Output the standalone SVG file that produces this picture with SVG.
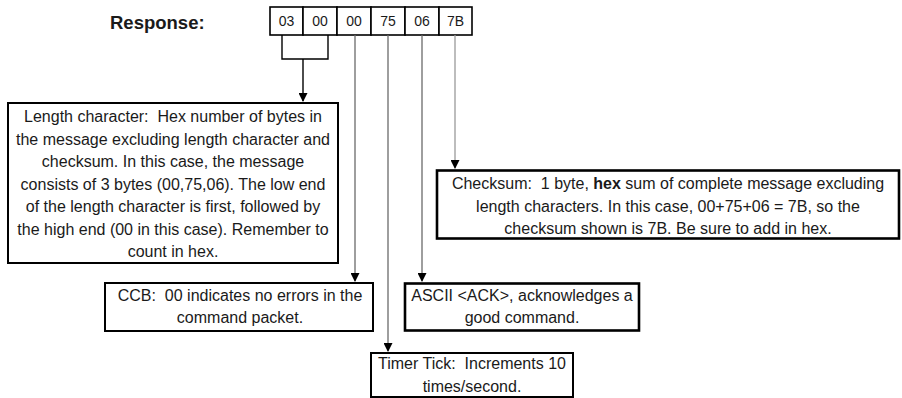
<svg xmlns="http://www.w3.org/2000/svg" width="902" height="398" viewBox="0 0 902 398">
<defs>
<style>
.t{font-family:"Liberation Sans",Arial,sans-serif;font-size:16px;fill:#1a1a1a;text-anchor:middle;white-space:pre}
.c{font-family:"Liberation Sans",Arial,sans-serif;font-size:14px;fill:#1a1a1a;text-anchor:middle}
.box{fill:#fff;stroke:#000;stroke-width:2}
.box2{fill:#fff;stroke:#000;stroke-width:2.6}
.cell{fill:#fff;stroke:#000;stroke-width:1.6}
.br{fill:none;stroke:#000;stroke-width:1.4}
.ln{fill:none;stroke:#6a6a6a;stroke-width:1.3}
.ln2{fill:none;stroke:#9a9a9a;stroke-width:1.3}
</style>
<marker id="tri" markerWidth="9" markerHeight="9" refX="8" refY="4.5" orient="auto" markerUnits="userSpaceOnUse" viewBox="0 0 9 9">
<path d="M0,0 L9,4.5 L0,9 Z" fill="#000"/>
</marker>
</defs>
<rect width="902" height="398" fill="#fff"/>
<g id="response">
<text x="110" y="29" style="font-family:'Liberation Sans',Arial,sans-serif;font-size:18.5px;font-weight:bold;fill:#1a1a1a">Response:</text>
<rect class="cell" x="270" y="7" width="33" height="28"/>
<rect class="cell" x="303" y="7" width="34" height="28"/>
<rect class="cell" x="337" y="7" width="34" height="28"/>
<rect class="cell" x="371" y="7" width="34" height="28"/>
<rect class="cell" x="405" y="7" width="34" height="28"/>
<rect class="cell" x="439" y="7" width="33" height="28"/>
<text class="c" x="286.5" y="26">03</text>
<text class="c" x="320" y="26">00</text>
<text class="c" x="354" y="26">00</text>
<text class="c" x="388" y="26">75</text>
<text class="c" x="422" y="26">06</text>
<text class="c" x="455.5" y="26">7B</text>
</g>
<g id="connectors">
<path class="br" d="M282,35 V59 H328 V35"/>
<path class="br" d="M303,59 V101" marker-end="url(#tri)"/>
<path class="ln" d="M355,35 V281" marker-end="url(#tri)"/>
<path class="ln" d="M388,35 V351" marker-end="url(#tri)"/>
<path class="ln" d="M422,35 V281" marker-end="url(#tri)"/>
<path class="ln2" d="M455,35 V168" marker-end="url(#tri)"/>
</g>
<g id="length">
<rect class="box" x="8" y="103" width="330" height="160"/>
<text class="t" x="173" y="122">Length character:  Hex number of bytes in</text>
<text class="t" x="173" y="144.5">the message excluding length character and</text>
<text class="t" x="173" y="167">checksum. In this case, the message</text>
<text class="t" x="173" y="189.5">consists of 3 bytes (00,75,06). The low end</text>
<text class="t" x="173" y="212">of the length character is first, followed by</text>
<text class="t" x="173" y="234.5">the high end (00 in this case). Remember to</text>
<text class="t" x="173" y="257">count in hex.</text>
</g>
<g id="checksum">
<rect class="box2" x="437" y="170.5" width="462" height="68"/>
<text class="t" x="668" y="189">Checksum:  1 byte, <tspan font-weight="bold">hex</tspan> sum of complete message excluding</text>
<text class="t" x="668" y="211.5">length characters. In this case, 00+75+06 = 7B, so the</text>
<text class="t" x="668" y="234">checksum shown is 7B. Be sure to add in hex.</text>
</g>
<g id="ccb">
<rect class="box" x="105" y="283" width="268" height="48"/>
<text class="t" x="240" y="300.5">CCB:  00 indicates no errors in the</text>
<text class="t" x="240" y="323">command packet.</text>
</g>
<g id="ack">
<rect class="box2" x="405" y="283.5" width="234" height="47"/>
<text class="t" x="522" y="300.5">ASCII &lt;ACK&gt;, acknowledges a</text>
<text class="t" x="522" y="323">good command.</text>
</g>
<g id="timer">
<rect class="box" x="371" y="353" width="202" height="44"/>
<text class="t" x="472" y="368.5">Timer Tick:  Increments 10</text>
<text class="t" x="472" y="392">times/second.</text>
</g>
</svg>
